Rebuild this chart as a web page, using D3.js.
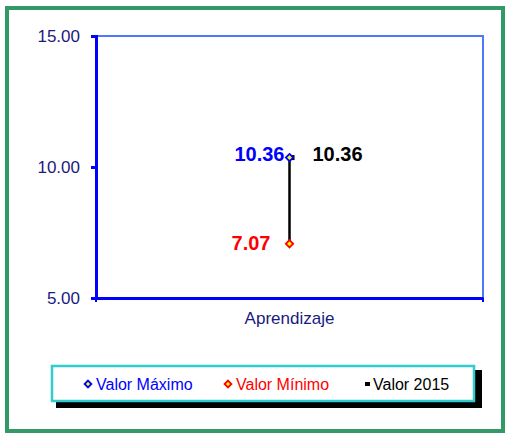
<!DOCTYPE html>
<html><head><meta charset="utf-8">
<script src="https://cdn.jsdelivr.net/npm/d3@7"></script>
<style>body{margin:0;background:#fff}svg{display:block;font-family:Arial,"Liberation Sans",sans-serif}</style>
</head><body>
<svg id="c" width="505" height="434"></svg>
<script>
const categories = ["Aprendizaje"];
const maxValues = [10.36];
const minValues = [7.07];
const values2015 = [10.36];
const yTicks = [5, 10, 15];
const legendLabels = ["Valor Máximo", "Valor Mínimo", "Valor 2015"];

const FF = "Arial, Liberation Sans, sans-serif";
const svg = d3.select("#c");
svg.append("rect").attr("x",7).attr("y",8).attr("width",496).attr("height",423)
  .attr("fill","#fff").attr("stroke","#339966").attr("stroke-width",4);

const L=96, R=483, T=36, B=298;
const y = d3.scaleLinear().domain([5,15]).range([B,T]);
const x = d3.scaleBand().domain(categories).range([L,R]);

svg.append("path").attr("d",`M${L},${T}H${R}V${B}`).attr("fill","none").attr("stroke","#4d79ff").attr("stroke-width",2);

const ya = svg.append("g").attr("transform",`translate(${L},0)`)
  .call(d3.axisLeft(y).tickValues(yTicks).tickFormat(d3.format(".2f")).tickSize(5).tickPadding(11));
ya.select(".domain").attr("stroke","#0000ff").attr("stroke-width",3);
ya.selectAll(".tick line").attr("stroke","#0000ff").attr("stroke-width",3);
ya.selectAll(".tick text").attr("fill","#1a1a80").attr("font-size",17).attr("font-family",FF);

const xa = svg.append("g").attr("transform",`translate(0,${B})`)
  .call(d3.axisBottom(x).tickSize(0).tickPadding(14));
xa.select(".domain").attr("stroke","#0000ff").attr("stroke-width",3);
xa.selectAll(".tick text").attr("fill","#1a1a80").attr("font-size",17).attr("font-family",FF);
svg.append("g").selectAll("line").data([L,R]).join("line")
  .attr("x1",d=>d).attr("x2",d=>d).attr("y1",B).attr("y2",B+4).attr("stroke","#0000ff").attr("stroke-width",2);

const cx = c => x(c)+x.bandwidth()/2;
const g = svg.append("g");
const fmt = d3.format(".2f");
categories.forEach((c,i)=>{
  const px = cx(c);
  g.append("line").attr("x1",px).attr("x2",px).attr("y1",y(maxValues[i])).attr("y2",y(minValues[i]))
    .attr("stroke","#000").attr("stroke-width",2.5);
  g.append("rect").attr("x",px).attr("y",y(values2015[i])-2.5).attr("width",5).attr("height",5).attr("fill","#000");
  const dia = (val,col)=> g.append("path").attr("d",d3.symbol(d3.symbolDiamond2,34)())
    .attr("transform",`translate(${px},${y(val)})`).attr("fill","#ffff00").attr("stroke",col).attr("stroke-width",1.8);
  dia(maxValues[i],"#0000ff");
  dia(minValues[i],"#ff0000");
  g.append("text").attr("x",px-5).attr("y",y(maxValues[i])-4).attr("dy","0.35em").attr("text-anchor","end")
    .attr("font-weight","bold").attr("font-size",20).attr("font-family",FF).attr("fill","#0000ff").text(fmt(maxValues[i]));
  g.append("text").attr("x",px+23).attr("y",y(values2015[i])-4).attr("dy","0.35em")
    .attr("font-weight","bold").attr("font-size",20).attr("font-family",FF).attr("fill","#000").text(fmt(values2015[i]));
  g.append("text").attr("x",px-19).attr("y",y(minValues[i])-1).attr("dy","0.35em").attr("text-anchor","end")
    .attr("font-weight","bold").attr("font-size",20).attr("font-family",FF).attr("fill","#ff0000").text(fmt(minValues[i]));
});

svg.append("rect").attr("x",56).attr("y",370).attr("width",426).attr("height",38).attr("fill","#000");
svg.append("rect").attr("x",52).attr("y",366).attr("width",422).attr("height",35).attr("fill","#fff").attr("stroke","#33cccc").attr("stroke-width",2.5);
const ly = 384;
const lg = svg.append("g");
const lx = [88, 228, 368];
const lcol = ["#0000ff","#ff0000","#000"];
legendLabels.forEach((t,i)=>{
  if(i<2){
    lg.append("path").attr("d",d3.symbol(d3.symbolDiamond2,30)()).attr("transform",`translate(${lx[i]},${ly})`)
      .attr("fill","#ffff00").attr("stroke",lcol[i]).attr("stroke-width",1.8);
  } else {
    lg.append("rect").attr("x",lx[i]-3).attr("y",ly-2).attr("width",5).attr("height",4).attr("fill","#000");
  }
  lg.append("text").attr("x",lx[i]+(i<2?8:5)).attr("y",ly).attr("dy","0.35em").attr("font-size",16)
    .attr("font-family",FF).attr("fill",lcol[i]).text(t);
});
</script>
</body></html>
